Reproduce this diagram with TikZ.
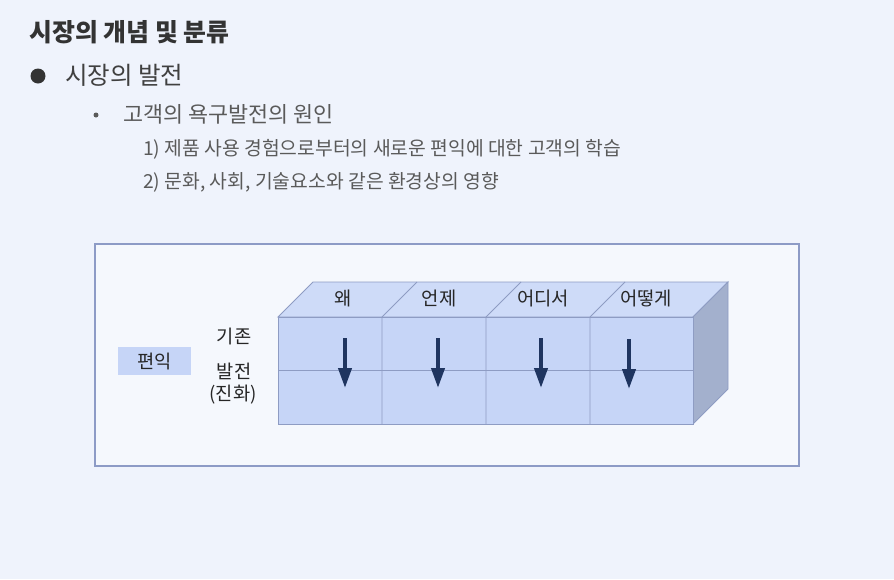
\documentclass[tikz,border=0pt]{standalone}
\usepackage{fontspec}
\setmainfont{Noto Sans CJK KR}
\usepackage{xcolor}
\usepackage{tikz}
\usetikzlibrary{arrows.meta, positioning, calc}

\definecolor{pagebg}{HTML}{EFF3FC}
\definecolor{framecol}{HTML}{8D9BC6}
\definecolor{frontface}{HTML}{C6D5F7}
\definecolor{topface}{HTML}{CEDBF8}
\definecolor{sideface}{HTML}{A3B0CD}
\definecolor{edgecol}{HTML}{8E9CC3}
\definecolor{arrowcol}{HTML}{1F3560}
\definecolor{textgray}{HTML}{5A5A5A}
\definecolor{titlecol}{HTML}{333333}

\begin{document}
\begin{tikzpicture}[x=1pt, y=-1pt,
    heading/.style={anchor=west, inner sep=0pt},
    facelabel/.style={font=\fontsize{18.8}{22}\selectfont, text=black!85},
    sidelabel/.style={font=\fontsize{18.7}{21}\selectfont, text=black!85},
    faceedge/.style={draw=edgecol, line width=0.9pt},
    downarrow/.style={-{Triangle[width=13pt, length=20pt]}, line width=4pt, draw=arrowcol}]

    % page and frame
    \fill[pagebg] (0,0) rectangle (894,579);
    \useasboundingbox (0,0) rectangle (894,579);
    \draw[framecol, fill=pagebg!60!white, line width=1.1pt] (95,244) rectangle (799,466);

    % headings
    \node (title) [heading, font=\fontsize{24.9}{28}\selectfont\bfseries, text=titlecol] at (29,32) {시장의 개념 및 분류};
    \fill[titlecol] (38,76) circle (7.5);
    \node (topic) [heading, font=\fontsize{24.5}{28}\selectfont, text=black!75] at (65,75) {시장의 발전};
    \fill[textgray] (96,115) circle (2.5);
    \node (cause) [heading, font=\fontsize{21.8}{25}\selectfont, text=textgray] at (123,114) {고객의 욕구발전의 원인};
    \node (item1) [heading, font=\fontsize{19.3}{23}\selectfont, text=textgray] at (143,149) {1) 제품 사용 경험으로부터의 새로운 편익에 대한 고객의 학습};
    \node (item2) [heading, font=\fontsize{19.3}{23}\selectfont, text=textgray] at (143,182) {2) 문화, 사회, 기술요소와 같은 환경상의 영향};

    % block faces
    \filldraw[faceedge, fill=topface] (278,317) -- (313,282) -- (728,282) -- (693,317) -- cycle;
    \filldraw[faceedge, fill=sideface] (693,317) -- (728,282) -- (728,389) -- (693,424) -- cycle;
    \filldraw[faceedge, fill=frontface] (278,317) rectangle (693,424);
    \draw[faceedge] (278,370) -- (693,370);
    \draw[faceedge] (382,317) -- (382,424) (382,317) -- (417,282);
    \draw[faceedge] (486,317) -- (486,424) (486,317) -- (521,282);
    \draw[faceedge] (590,317) -- (590,424) (590,317) -- (625,282);

    % column labels
    \node (why) [facelabel] at (343,298) {왜};
    \node (when) [facelabel] at (439,298) {언제};
    \node (where) [facelabel] at (543,298) {어디서};
    \node (how) [facelabel] at (646,298) {어떻게};

    % row labels
    \node (benefit) [fill=frontface, minimum width=73pt, minimum height=28pt, sidelabel] at (154.5,361) {편익};
    \node (old) [sidelabel] at (234,336) {기존};
    \node (new) [sidelabel] at (234,371) {발전};
    \node (evol) [sidelabel] at (233,395) {(진화)};

    % arrows
    \coordinate (whyA) at (345,338);   \coordinate (whyB) at (345,388);
    \coordinate (whenA) at (438,338);  \coordinate (whenB) at (438,388);
    \coordinate (whereA) at (541,338); \coordinate (whereB) at (541,388);
    \coordinate (howA) at (629,339);   \coordinate (howB) at (629,389);
    \draw[downarrow] (whyA) -- (whyB);
    \draw[downarrow] (whenA) -- (whenB);
    \draw[downarrow] (whereA) -- (whereB);
    \draw[downarrow] (howA) -- (howB);
\end{tikzpicture}
\end{document}
